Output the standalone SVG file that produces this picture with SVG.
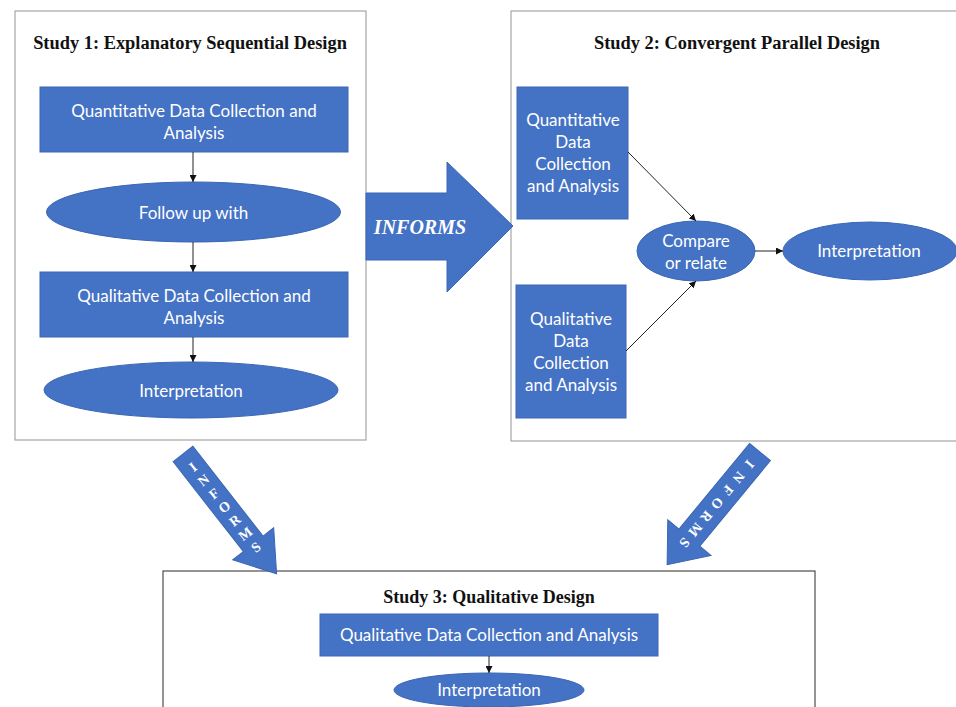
<svg xmlns="http://www.w3.org/2000/svg" width="956" height="707" viewBox="0 0 956 707">
<defs>
<style>
.frame{fill:#fff;stroke:#a6a6a6;stroke-width:1.2}
.frame3{fill:#fff;stroke:#4d4d4d;stroke-width:1.2}
.title{font-family:"Liberation Serif","Times New Roman",serif;font-weight:bold;font-size:18.4px;fill:#111;text-anchor:middle}
.box{fill:#4472c4;stroke:#3b66b3;stroke-width:1}
.lbl{font-family:Lato,"Liberation Sans",sans-serif;font-size:17px;fill:#fff;text-anchor:middle;dominant-baseline:central}
.big{fill:#4472c4;stroke:#3b66b3;stroke-width:1}
.inf{font-family:"Liberation Serif","Times New Roman",serif;font-weight:bold;fill:#fff;text-anchor:middle;dominant-baseline:central}
.conn{stroke:#222;stroke-width:1;fill:none;marker-end:url(#ah)}
</style>
<marker id="ah" viewBox="0 0 10 10" refX="10" refY="5" markerWidth="7" markerHeight="7" markerUnits="userSpaceOnUse" orient="auto">
<path d="M0,0 L10,5 L0,10 z" fill="#111"/>
</marker>
</defs>
<rect width="956" height="707" fill="#fff"/>

<g id="study1">
<rect class="frame" x="15" y="11" width="351" height="429"/>
<text class="title" x="190" y="49">Study 1: Explanatory Sequential Design</text>
<g id="s1-quant">
<rect class="box" x="40" y="87" width="308" height="65"/>
<text class="lbl" x="194" y="110">Quantitative Data Collection and</text>
<text class="lbl" x="194" y="132">Analysis</text>
</g>
<g id="s1-follow">
<ellipse class="box" cx="193.5" cy="212" rx="147" ry="30"/>
<text class="lbl" x="193.5" y="212">Follow up with</text>
</g>
<g id="s1-qual">
<rect class="box" x="40" y="272" width="308" height="65"/>
<text class="lbl" x="194" y="295">Qualitative Data Collection and</text>
<text class="lbl" x="194" y="317">Analysis</text>
</g>
<g id="s1-interp">
<ellipse class="box" cx="191" cy="390" rx="147" ry="28"/>
<text class="lbl" x="191" y="390">Interpretation</text>
</g>
</g>

<g id="study2">
<rect class="frame" x="511" y="11" width="460" height="430"/>
<text class="title" x="737" y="49">Study 2: Convergent Parallel Design</text>
<g id="s2-quant">
<rect class="box" x="517" y="87" width="111" height="132"/>
<text class="lbl" x="573" y="119">Quantitative</text>
<text class="lbl" x="573" y="141">Data</text>
<text class="lbl" x="573" y="163">Collection</text>
<text class="lbl" x="573" y="185">and Analysis</text>
</g>
<g id="s2-qual">
<rect class="box" x="516" y="285" width="110" height="133"/>
<text class="lbl" x="571" y="318">Qualitative</text>
<text class="lbl" x="571" y="340">Data</text>
<text class="lbl" x="571" y="362">Collection</text>
<text class="lbl" x="571" y="384">and Analysis</text>
</g>
<g id="s2-compare">
<ellipse class="box" cx="696" cy="251" rx="59" ry="30"/>
<text class="lbl" x="696" y="240">Compare</text>
<text class="lbl" x="696" y="262">or relate</text>
</g>
<g id="s2-interp">
<ellipse class="box" cx="870" cy="251" rx="87" ry="29"/>
<text class="lbl" x="869" y="250">Interpretation</text>
</g>
</g>

<g id="study3">
<rect class="frame3" x="163" y="571" width="652" height="150"/>
<text class="title" x="489" y="603" style="font-size:18px">Study 3: Qualitative Design</text>
<g id="s3-qual">
<rect class="box" x="320" y="614" width="338" height="42"/>
<text class="lbl" x="489" y="634">Qualitative Data Collection and Analysis</text>
</g>
<g id="s3-interp">
<ellipse class="box" cx="489" cy="690" rx="95" ry="17"/>
<text class="lbl" x="489" y="689">Interpretation</text>
</g>
</g>

<g id="informs-arrows">
<g id="informs-main">
<polygon class="big" points="366,193 447,193 447,162 513,226 447,292 447,260 366,260"/>
<text class="inf" x="420" y="227" style="font-style:italic;font-size:20px">INFORMS</text>
</g>
<g id="informs-left" transform="translate(183,454) rotate(-38)">
<polygon class="big" points="-12.5,0 12.5,0 12.5,114 26,114 0,152 -26,114 -12.5,114"/>
<text class="inf" style="font-size:14px"><tspan x="0" y="16">I</tspan><tspan x="0" y="33">N</tspan><tspan x="0" y="50">F</tspan><tspan x="0" y="67">O</tspan><tspan x="0" y="84">R</tspan><tspan x="0" y="101">M</tspan><tspan x="0" y="118">S</tspan></text>
</g>
<g id="informs-right" transform="translate(760,452) rotate(39.5)">
<polygon class="big" points="-13.5,0 13.5,0 13.5,111 28,111 0,146 -28,111 -13.5,111"/>
<text class="inf" style="font-size:14px" transform="rotate(90)"><tspan x="16" y="0">I</tspan><tspan x="33" y="0">N</tspan><tspan x="50" y="0">F</tspan><tspan x="67" y="0">O</tspan><tspan x="84" y="0">R</tspan><tspan x="101" y="0">M</tspan><tspan x="118" y="0">S</tspan></text>
</g>
</g>

<g id="connectors">
<line class="conn" x1="193" y1="152" x2="193" y2="182"/>
<line class="conn" x1="193" y1="242" x2="193" y2="272"/>
<line class="conn" x1="193" y1="337" x2="193" y2="362"/>
<line class="conn" x1="628" y1="152" x2="696" y2="221"/>
<line class="conn" x1="626" y1="351" x2="696" y2="281"/>
<line class="conn" x1="755" y1="251" x2="783" y2="251"/>
<line class="conn" x1="489" y1="656" x2="489" y2="673"/>
</g>
</svg>
